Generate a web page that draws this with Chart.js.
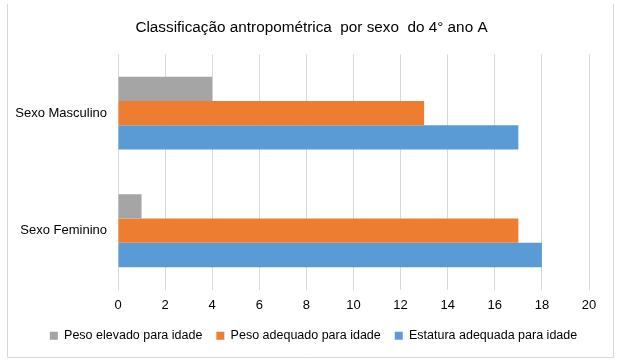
<!DOCTYPE html>
<html>
<head>
<meta charset="utf-8">
<script src="https://cdn.jsdelivr.net/npm/chart.js@4/dist/chart.umd.min.js"></script>
<style>
  html, body { margin: 0; padding: 0; background: #fff; }
  #wrap { width: 617px; height: 360px; position: relative; }
</style>
</head>
<body>
<div id="wrap"><canvas id="c" width="617" height="360"></canvas></div>
<script>
const chartTitle = 'Classificação antropométrica  por sexo  do 4° ano A';
const categories = ['Sexo Masculino', 'Sexo Feminino'];
const seriesNames = ['Peso elevado para idade', 'Peso adequado para idade', 'Estatura adequada para idade'];
const pesoElevado = [4, 1];
const pesoAdequado = [13, 17];
const estaturaAdequada = [17, 18];
const seriesColors = ['#A5A5A5', '#ED7D31', '#5B9BD5'];

const FONT = "'Liberation Sans', Arial, sans-serif";

const borderPlugin = {
  id: 'outerBorder',
  afterLayout(chart) {
    const l = chart.legend;
    if (l) { l.left += 11; l.right += 11; }
    const t = chart.titleBlock;
    if (t) { t.left += 9; t.right += 9; }
  },
  beforeDraw(chart) {
    const ctx = chart.ctx;
    ctx.save();
    ctx.fillStyle = '#fff';
    ctx.fillRect(0, 0, chart.width, chart.height);
    ctx.strokeStyle = '#D9D9D9';
    ctx.lineWidth = 1;
    ctx.beginPath();
    ctx.moveTo(7.5, 4);
    ctx.lineTo(7.5, 357.5);
    ctx.lineTo(613.5, 357.5);
    ctx.lineTo(613.5, 4);
    ctx.stroke();
    ctx.restore();
  }
};

new Chart(document.getElementById('c'), {
  type: 'bar',
  data: {
    labels: categories,
    datasets: [
      { label: seriesNames[0], data: pesoElevado, backgroundColor: seriesColors[0] },
      { label: seriesNames[1], data: pesoAdequado, backgroundColor: seriesColors[1] },
      { label: seriesNames[2], data: estaturaAdequada, backgroundColor: seriesColors[2] }
    ]
  },
  options: {
    indexAxis: 'y',
    responsive: false,
    animation: false,
    devicePixelRatio: 1,
    layout: { padding: { left: 16, right: 28, top: 19, bottom: 8 } },
    datasets: { bar: { barPercentage: 1, categoryPercentage: 0.62 } },
    plugins: {
      title: {
        display: true,
        text: chartTitle,
        color: '#000',
        font: { family: FONT, size: 15.3, weight: 'normal' },
        padding: { top: 0, bottom: 17 }
      },
      legend: {
        position: 'bottom',
        labels: {
          color: '#000',
          font: { family: FONT, size: 12.5 },
          boxWidth: 8,
          boxHeight: 8,
          padding: 14
        }
      },
      tooltip: { enabled: false }
    },
    scales: {
      x: {
        min: 0,
        max: 20,
        afterFit(scale) { scale.height = 26; },
        ticks: { stepSize: 2, color: '#000', font: { family: FONT, size: 13 }, padding: 8 },
        grid: { color: '#D9D9D9', drawTicks: false },
        border: { display: false }
      },
      y: {
        afterFit(scale) { scale.width = 102; },
        ticks: { color: '#000', font: { family: FONT, size: 13 }, padding: 11 },
        grid: { display: false, drawTicks: false },
        border: { display: false }
      }
    }
  },
  plugins: [borderPlugin]
});
</script>
</body>
</html>
